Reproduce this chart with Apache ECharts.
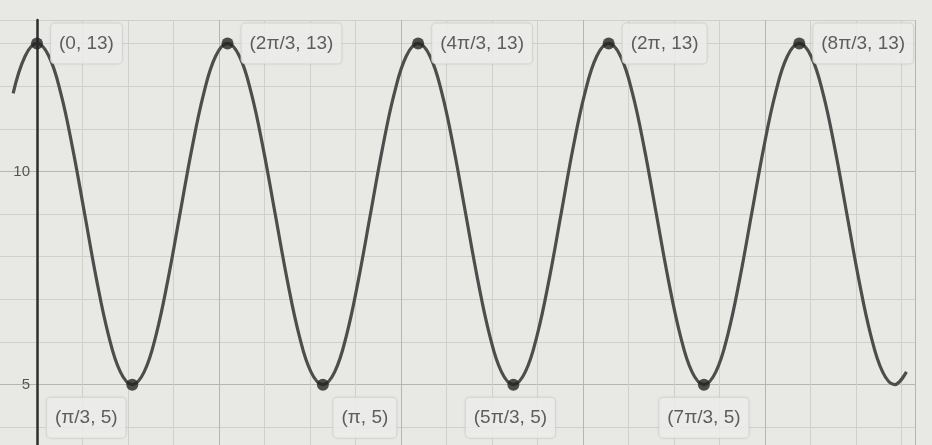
<!DOCTYPE html>
<html>
<head>
<meta charset="utf-8">
<script src="https://cdn.jsdelivr.net/npm/echarts@6/dist/echarts.min.js"></script>
<style>
  html, body { margin: 0; padding: 0; background: #e7e7e4; }
  #chart { width: 932px; height: 445px; }
</style>
</head>
<body>
<div id="chart"></div>
<script>
// Curve samples (x in radians, y value)
const curveX = [-0.262, -0.131, 0, 0.131, 0.262, 0.393, 0.524, 0.654, 0.785, 0.916,
  1.047, 1.178, 1.309, 1.440, 1.571, 1.702, 1.833, 1.963, 2.094, 2.225,
  2.356, 2.487, 2.618, 2.749, 2.880, 3.011, 3.142, 3.272, 3.403, 3.534,
  3.665, 3.796, 3.927, 4.058, 4.189, 4.320, 4.451, 4.581, 4.712, 4.843,
  4.974, 5.105, 5.236, 5.367, 5.498, 5.629, 5.760, 5.890, 6.021, 6.152,
  6.283, 6.414, 6.545, 6.676, 6.807, 6.938, 7.069, 7.199, 7.330, 7.461,
  7.592, 7.723, 7.854, 7.985, 8.116, 8.247, 8.378, 8.508, 8.639, 8.770,
  8.901, 9.032, 9.163, 9.294, 9.425, 9.556];
const curveY = [11.83, 12.70,
  13, 12.70, 11.83, 10.53, 9, 7.47, 6.17, 5.30, 5, 5.30, 6.17, 7.47, 9, 10.53, 11.83, 12.70,
  13, 12.70, 11.83, 10.53, 9, 7.47, 6.17, 5.30, 5, 5.30, 6.17, 7.47, 9, 10.53, 11.83, 12.70,
  13, 12.70, 11.83, 10.53, 9, 7.47, 6.17, 5.30, 5, 5.30, 6.17, 7.47, 9, 10.53, 11.83, 12.70,
  13, 12.70, 11.83, 10.53, 9, 7.47, 6.17, 5.30, 5, 5.30, 6.17, 7.47, 9, 10.53, 11.83, 12.70,
  13, 12.70, 11.83, 10.53, 9, 7.47, 6.17, 5.30, 5, 5.30];

// Marked maxima
const peakX = [0, 2.094, 4.189, 6.283, 8.378];
const peakY = [13, 13, 13, 13, 13];
const peakLabels = ['(0, 13)', '(2π/3, 13)', '(4π/3, 13)', '(2π, 13)', '(8π/3, 13)'];

// Marked minima
const troughX = [1.047, 3.142, 5.236, 7.330];
const troughY = [5, 5, 5, 5];
const troughLabels = ['(π/3, 5)', '(π, 5)', '(5π/3, 5)', '(7π/3, 5)'];

// Y tick labels shown
const yTickLabels = [5, 10];

// ---- styling (kept separate from data) ----
const troughLabelShift = [-46, 42, -3, 0];

const boxStyle = {
  show: true,
  fontFamily: 'Liberation Sans, Arial, sans-serif',
  fontSize: 19,
  lineHeight: 20,
  color: '#3a3a3a',
  backgroundColor: '#efefed',
  borderColor: '#d6d6d3',
  borderWidth: 1,
  borderRadius: 4,
  padding: [10, 8],
  shadowColor: 'rgba(0,0,0,0.06)',
  shadowBlur: 3
};

const peakData = peakX.map((x, i) => ({
  value: [x, peakY[i]],
  label: Object.assign({}, boxStyle, { position: 'right', distance: 8, formatter: peakLabels[i] })
}));
const troughData = troughX.map((x, i) => ({
  value: [x, troughY[i]],
  label: Object.assign({}, boxStyle, { position: 'bottom', distance: 7, offset: [troughLabelShift[i], 0], formatter: troughLabels[i] })
}));

const chart = echarts.init(document.getElementById('chart'), null, { renderer: 'canvas' });
chart.setOption({
  backgroundColor: '#e8e8e5',
  animation: false,
  grid: { left: -8.5, right: 17, top: 20, bottom: -25, containLabel: false, outerBoundsMode: 'none' },
  xAxis: {
    type: 'value',
    min: -0.5,
    max: 9.65,
    interval: 0.5,
    axisLine: { show: false },
    axisTick: { show: false },
    axisLabel: { show: false },
    splitLine: {
      show: true,
      lineStyle: { color: ['#cfcfcc', '#b5b5b2', '#cfcfcc', '#cfcfcc'], width: 1 }
    }
  },
  yAxis: {
    type: 'value',
    min: 3,
    max: 13.55,
    interval: 1,
    offset: -45.5,
    axisLine: { show: true, onZero: false, lineStyle: { color: '#2e2e2e', width: 2.5 } },
    axisTick: { show: false },
    axisLabel: {
      show: true,
      margin: 7,
      fontFamily: 'Liberation Sans, Arial, sans-serif',
      fontSize: 15,
      color: '#555',
      formatter: v => (yTickLabels.indexOf(v) >= 0 ? String(v) : '')
    },
    splitLine: {
      show: true,
      lineStyle: { color: ['#cfcfcc', '#cfcfcc', '#b5b5b2', '#cfcfcc', '#cfcfcc'], width: 1 }
    }
  },
  series: [
    {
      type: 'line',
      data: curveX.map((x, i) => [x, curveY[i]]),
      smooth: 0.4,
      showSymbol: false,
      lineStyle: { color: '#4d4d4d', width: 3.2 },
      z: 2
    },
    {
      type: 'scatter',
      data: peakData.concat(troughData),
      symbolSize: 12,
      itemStyle: { color: '#232323' },
      z: 3
    }
  ]
});
</script>
</body>
</html>
